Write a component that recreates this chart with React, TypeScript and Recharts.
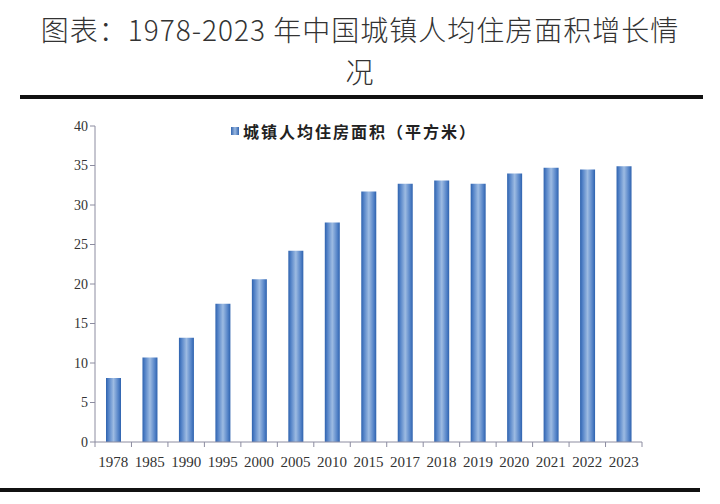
import { BarChart, Bar, XAxis, YAxis } from "recharts"

const years = ["1978", "1985", "1990", "1995", "2000", "2005", "2010", "2015", "2017", "2018", "2019", "2020", "2021", "2022", "2023"]
const area = [8.1, 10.7, 13.2, 17.5, 20.6, 24.2, 27.8, 31.7, 32.7, 33.1, 32.7, 34.0, 34.7, 34.5, 34.9]
const yTicks = [0, 5, 10, 15, 20, 25, 30, 35, 40]

const titleLines = ["图表：1978-2023 年中国城镇人均住房面积增长情", "况"]
const seriesName = "城镇人均住房面积（平方米）"

const data = years.map((year, i) => ({ year, area: area[i] }))

const W = 720
const H = 504
const xAxisHeight = 30
const margin = { top: 126, right: 78, bottom: 62 - xAxisHeight, left: 55 }
const yAxisWidth = 40
const plotLeft = margin.left + yAxisWidth
const plotWidth = W - margin.right - plotLeft
const band = plotWidth / years.length

const numFont = "'Liberation Serif', 'DejaVu Serif', serif"
const cjkFont = "'Noto Sans CJK SC', sans-serif"
const axisColor = "#8c8ca0"

function XTick(props: any) {
  const { x, y, payload, index } = props
  const isLast = index === years.length - 1
  return (
    <g>
      <line x1={x - band / 2} y1={y - 8} x2={x - band / 2} y2={y - 3} stroke={axisColor} />
      {isLast && <line x1={x + band / 2} y1={y - 8} x2={x + band / 2} y2={y - 3} stroke={axisColor} />}
      <text x={x} y={y + 17} textAnchor="middle" fontFamily={numFont} fontSize={15} fill="#333">
        {payload.value}
      </text>
    </g>
  )
}

export default function App() {
  return (
    <div style={{ position: "absolute", left: 0, top: 0, width: W, height: H, background: "#fff", overflow: "hidden" }}>
      <div
        style={{
          position: "absolute",
          left: 0,
          top: 8,
          width: W,
          fontFamily: cjkFont,
          fontSize: 28,
          fontWeight: 300,
          lineHeight: "42px",
          color: "#333",
          textAlign: "center",
          whiteSpace: "nowrap",
          letterSpacing: 1,
        }}
      >
        {titleLines.map((line) => (
          <div key={line}>{line}</div>
        ))}
      </div>
      <div style={{ position: "absolute", left: 20, top: 95, width: 683, height: 4, background: "#111" }} />
      <div style={{ position: "absolute", left: 0, top: 488, width: 700, height: 4, background: "#111" }} />
      <div
        style={{
          position: "absolute",
          left: 231,
          top: 119,
          display: "flex",
          alignItems: "center",
          fontFamily: cjkFont,
          fontSize: 16,
          fontWeight: 700,
          color: "#222",
          letterSpacing: 2,
        }}
      >
        <span
          style={{
            display: "inline-block",
            width: 8,
            height: 8,
            marginRight: 4,
            background: "linear-gradient(to right, #3466b0, #9ab8e0, #3466b0)",
          }}
        />
        {seriesName}
      </div>
      <BarChart width={W} height={H} data={data} margin={margin}>
        <defs>
          <linearGradient id="barFill" x1="0" y1="0" x2="1" y2="0">
            <stop offset="0" stopColor="#2e62ae" />
            <stop offset="0.18" stopColor="#5584c8" />
            <stop offset="0.5" stopColor="#9dbbe2" />
            <stop offset="0.82" stopColor="#5584c8" />
            <stop offset="1" stopColor="#2e62ae" />
          </linearGradient>
        </defs>
        <XAxis
          dataKey="year"
          height={xAxisHeight}
          stroke={axisColor}
          tickLine={false}
          tick={<XTick />}
          interval={0}
        />
        <YAxis
          width={yAxisWidth}
          domain={[0, 40]}
          ticks={yTicks}
          stroke={axisColor}
          tickSize={5}
          tick={{ fontFamily: numFont, fontSize: 14, fill: "#333" }}
          interval={0}
        />
        <Bar dataKey="area" name={seriesName} fill="url(#barFill)" barSize={15} isAnimationActive={false} />
      </BarChart>
    </div>
  )
}
